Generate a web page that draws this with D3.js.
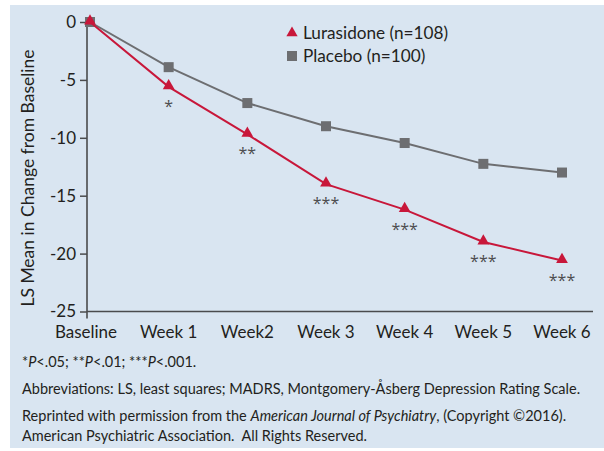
<!DOCTYPE html>
<html>
<head>
<meta charset="utf-8">
<script src="https://cdn.jsdelivr.net/npm/d3@7"></script>
<style>
  body { margin: 0; background: #fff; }
  text { font-family: Lato, "Noto Sans", sans-serif; }
</style>
</head>
<body>
<div id="chart"></div>
<script>
// chart data
var weeks = ["Baseline", "Week 1", "Week2", "Week 3", "Week 4", "Week 5", "Week 6"];
var lurasidone = [0, -5.6, -9.7, -14.0, -16.2, -19.0, -20.6];
var placebo = [0, -3.9, -7.0, -9.0, -10.45, -12.25, -13.0];
var stars = ["", "*", "**", "***", "***", "***", "***"];
var yTicks = [0, -5, -10, -15, -20, -25];
var legendLabels = ["Lurasidone (n=108)", "Placebo (n=100)"];

var width = 604, height = 451;
var red = "#c8173a", grey = "#6d6e71", axisCol = "#4a4b4d";

var svg = d3.select("#chart").append("svg")
  .attr("width", width)
  .attr("height", height);

// light blue panel
svg.append("rect")
  .attr("x", 10).attr("y", 5)
  .attr("width", width - 10).attr("height", 443)
  .attr("fill", "#d9e5f1");

var x = d3.scalePoint().domain(weeks).range([90, 562]);
var y = d3.scaleLinear().domain([0, -25]).range([22, 311.5]);

// y axis
var yAxis = svg.append("g")
  .attr("transform", "translate(87,0)")
  .call(d3.axisLeft(y).tickValues(yTicks).tickSize(7).tickSizeOuter(0)
    .tickFormat(function(d) { return String(d); }));
yAxis.select(".domain").remove();
yAxis.selectAll(".tick line").attr("stroke", axisCol).attr("stroke-width", 1.5);
yAxis.selectAll(".tick text")
  .attr("fill", "#231f20")
  .style("font-size", "17px")
  .attr("x", -11);
svg.append("line")
  .attr("x1", 87).attr("x2", 87)
  .attr("y1", y(0) - 3).attr("y2", y(-25) + 7)
  .attr("stroke", axisCol).attr("stroke-width", 1.6);

// x axis
svg.append("line")
  .attr("x1", 87).attr("x2", 593)
  .attr("y1", y(-25)).attr("y2", y(-25))
  .attr("stroke", axisCol).attr("stroke-width", 1.6);
svg.append("g").selectAll("text")
  .data(weeks)
  .enter().append("text")
  .attr("x", function(d, i) { return i == 0 ? x(d) - 4 : x(d); })
  .attr("y", 338)
  .attr("text-anchor", "middle")
  .attr("fill", "#231f20")
  .style("font-size", "17px")
  .text(function(d) { return d; });

// y axis title
svg.append("text")
  .attr("transform", "translate(34,178) rotate(-90)")
  .attr("text-anchor", "middle")
  .attr("fill", "#231f20")
  .style("font-size", "17.5px")
  .text("LS Mean in Change from Baseline");

var line = d3.line()
  .x(function(d, i) { return x(weeks[i]); })
  .y(function(d) { return y(d); });

// placebo
svg.append("path")
  .datum(placebo)
  .attr("d", line)
  .attr("fill", "none")
  .attr("stroke", grey)
  .attr("stroke-width", 2);
svg.append("g").selectAll("rect")
  .data(placebo)
  .enter().append("rect")
  .attr("x", function(d, i) { return x(weeks[i]) - 5; })
  .attr("y", function(d) { return y(d) - 5; })
  .attr("width", 10).attr("height", 10)
  .attr("fill", grey);

// lurasidone
svg.append("path")
  .datum(lurasidone)
  .attr("d", line)
  .attr("fill", "none")
  .attr("stroke", red)
  .attr("stroke-width", 2);
var tri = d3.symbol().type(d3.symbolTriangle).size(60);
svg.append("g").selectAll("path")
  .data(lurasidone)
  .enter().append("path")
  .attr("d", tri)
  .attr("transform", function(d, i) { return "translate(" + x(weeks[i]) + "," + (y(d) - 1) + ")"; })
  .attr("fill", red);

// significance stars
svg.append("g").selectAll("text")
  .data(lurasidone)
  .enter().append("text")
  .attr("x", function(d, i) { return x(weeks[i]); })
  .attr("y", function(d) { return y(d) + 25; })
  .attr("text-anchor", "middle")
  .attr("fill", "#4d4d4f")
  .style("font-family", "'Open Sans', sans-serif")
  .style("font-size", "16px")
  .text(function(d, i) { return stars[i]; });

// legend
var legend = svg.append("g").attr("transform", "translate(292,33)");
legend.append("path")
  .attr("d", d3.symbol().type(d3.symbolTriangle).size(55))
  .attr("fill", red);
legend.append("rect")
  .attr("x", -5).attr("y", 18).attr("width", 10).attr("height", 10)
  .attr("fill", grey);
legend.selectAll("text")
  .data(legendLabels)
  .enter().append("text")
  .attr("x", 11)
  .attr("y", function(d, i) { return 6 + i * 23; })
  .attr("fill", "#231f20")
  .style("font-size", "17.2px")
  .text(function(d) { return d; });

// footnotes
var notes = svg.append("g").attr("fill", "#231f20").style("font-size", "14.5px");
var n1 = notes.append("text").attr("x", 22).attr("y", 367);
n1.append("tspan").text("*");
n1.append("tspan").style("font-style", "italic").text("P");
n1.append("tspan").text("<.05; **");
n1.append("tspan").style("font-style", "italic").text("P");
n1.append("tspan").text("<.01; ***");
n1.append("tspan").style("font-style", "italic").text("P");
n1.append("tspan").text("<.001.");
notes.append("text").attr("x", 22).attr("y", 394)
  .text("Abbreviations: LS, least squares; MADRS, Montgomery-Åsberg Depression Rating Scale.");
var n3 = notes.append("text").attr("x", 22).attr("y", 421);
n3.append("tspan").text("Reprinted with permission from the ");
n3.append("tspan").style("font-style", "italic").text("American Journal of Psychiatry");
n3.append("tspan").text(", (Copyright ©2016).");
notes.append("text").attr("x", 22).attr("y", 441)
  .text("American Psychiatric Association.  All Rights Reserved.")
  .style("white-space", "pre");
</script>
</body>
</html>
